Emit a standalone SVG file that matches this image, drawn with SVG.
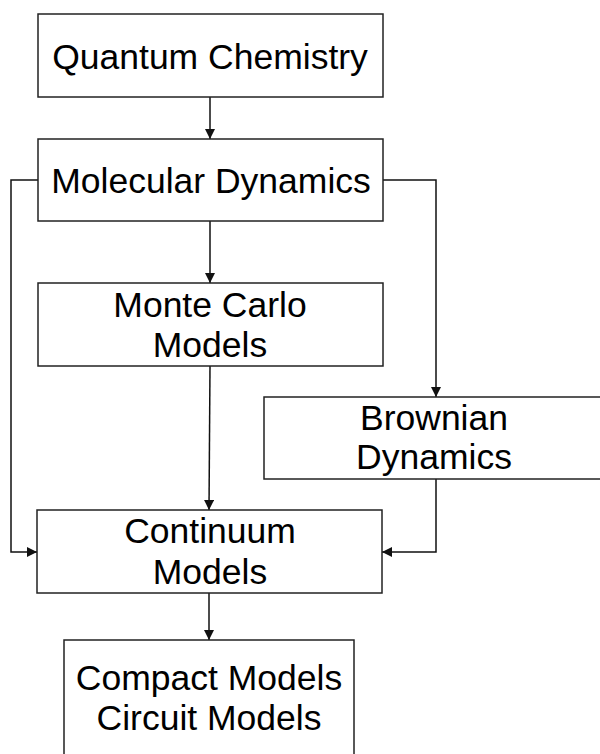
<svg xmlns="http://www.w3.org/2000/svg" width="600" height="754" viewBox="0 0 600 754">
<defs>
<marker id="ah" viewBox="0 0 10 10" refX="10" refY="5" markerWidth="10" markerHeight="10" markerUnits="userSpaceOnUse" orient="auto">
<path d="M0,0 L10,5 L0,10 Z" fill="#111"/>
</marker>
<style>
.box{fill:#fff;stroke:#222;stroke-width:1.5}
.lbl{font-family:"Liberation Sans",Arial,sans-serif;font-size:35.5px;fill:#000;text-anchor:middle}
.con{fill:none;stroke:#111;stroke-width:1.5;marker-end:url(#ah)}
</style>
</defs>
<rect width="600" height="754" fill="#fff"/>
<g id="connectors">
<path class="con" d="M210,97 V139"/>
<path class="con" d="M210,221 V283"/>
<path class="con" d="M38,180 H11 V552 H37"/>
<path class="con" d="M383,180 H436 V397"/>
<path class="con" d="M210,366 L209,510"/>
<path class="con" d="M436,479 V552 H382"/>
<path class="con" d="M209,593 V640"/>
</g>
<g id="quantum">
<rect class="box" x="38" y="14" width="345" height="83"/>
<text class="lbl" x="210" y="69">Quantum Chemistry</text>
</g>
<g id="molecular">
<rect class="box" x="38" y="139" width="345" height="82"/>
<text class="lbl" x="211" y="193">Molecular Dynamics</text>
</g>
<g id="montecarlo">
<rect class="box" x="38" y="283" width="345" height="83"/>
<text class="lbl" x="210" y="317">Monte Carlo</text>
<text class="lbl" x="210" y="357">Models</text>
</g>
<g id="brownian">
<rect class="box" x="264" y="397" width="345" height="82"/>
<text class="lbl" x="434" y="430">Brownian</text>
<text class="lbl" x="434" y="469">Dynamics</text>
</g>
<g id="continuum">
<rect class="box" x="37" y="510" width="345" height="83"/>
<text class="lbl" x="210" y="543">Continuum</text>
<text class="lbl" x="210" y="584">Models</text>
</g>
<g id="compact">
<rect class="box" x="64" y="640" width="290" height="130"/>
<text class="lbl" x="209" y="690">Compact Models</text>
<text class="lbl" x="209" y="730">Circuit Models</text>
</g>
</svg>
